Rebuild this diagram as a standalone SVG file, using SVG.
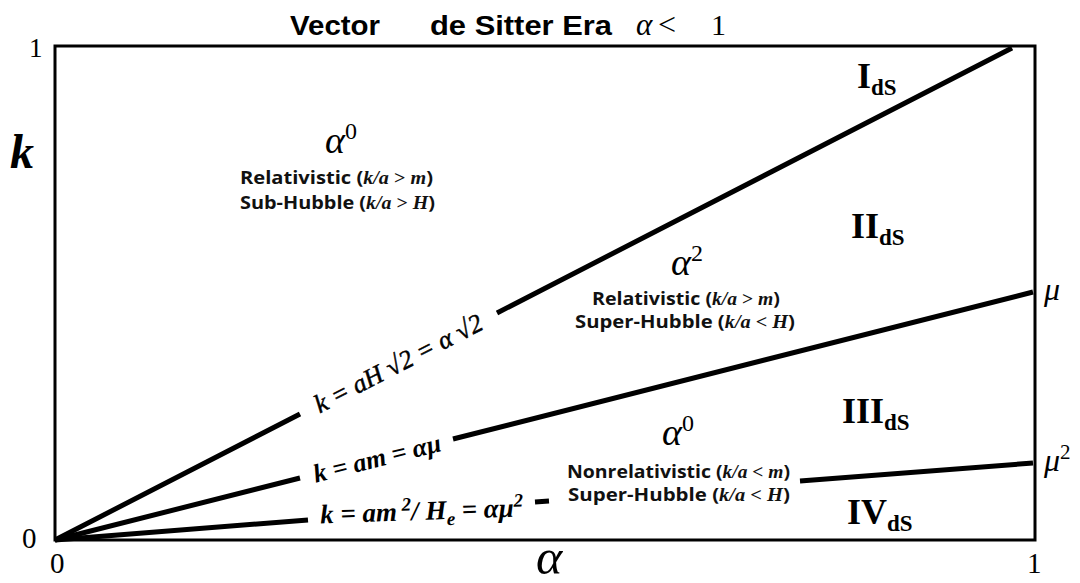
<svg xmlns="http://www.w3.org/2000/svg" width="1080" height="583" viewBox="0 0 1080 583">
<style>
.title{font-family:"Liberation Sans",Arial,sans-serif;font-weight:bold;font-size:28px;fill:#000}
.serif{font-family:"Liberation Serif","Times New Roman",serif;fill:#000}
.it{font-style:italic}
.reg{font-family:"Open Sans","Noto Sans",sans-serif;font-weight:bold;font-size:18px;fill:#111}
.m{font-family:"Liberation Serif","Times New Roman",serif;font-weight:bold}
.mi{font-family:"Liberation Serif","Times New Roman",serif;font-style:italic;font-weight:bold}
.roman{font-family:"Liberation Serif","Times New Roman",serif;font-weight:bold;font-size:36px;fill:#000}
.sub{font-size:23px}
.ln{stroke:#000;stroke-width:5;fill:none;stroke-linecap:butt}
</style>
<rect x="0" y="0" width="1080" height="583" fill="#fff"/>
<g id="title">
<text class="title" x="290" y="35" textLength="90" lengthAdjust="spacingAndGlyphs">Vector</text>
<text class="title" x="430" y="35" textLength="182" lengthAdjust="spacingAndGlyphs">de Sitter Era</text>
<text class="serif it" x="636" y="35" font-size="31">α</text>
<text class="serif" x="658" y="35" font-size="32">&lt;</text>
<text class="serif" x="711" y="35" font-size="30">1</text>
</g>
<g id="frame">
<rect x="55" y="46" width="980" height="494" fill="none" stroke="#000" stroke-width="3"/>
</g>
<g id="axes-labels">
<text class="serif" x="29" y="57" font-size="27">1</text>
<text class="serif it" x="10" y="168" font-size="48" font-weight="bold">k</text>
<text class="serif" x="22" y="548" font-size="29">0</text>
<text class="serif" x="50" y="573" font-size="29">0</text>
<text class="serif" x="1027" y="573" font-size="29">1</text>
<text class="serif it" x="549" y="574" font-size="50" text-anchor="middle">α</text>
</g>
<g id="connectors">
<path class="ln" d="M55,540 L300,414 M497,313 L1012,48"/>
<path class="ln" d="M55,540 L300,478 M453,439 L1033,292"/>
<path class="ln" d="M55,540 L308,520 M535,502 L549,501 M800,481 L1033,463"/>
</g>
<g id="line-labels">
<text class="serif it" font-size="26" x="398.5" y="372" text-anchor="middle" stroke="#000" stroke-width="0.5" transform="rotate(-27.2 398.5 363.5)">k = aH √2 = α √2</text>
<text class="serif it" font-size="26" font-weight="bold" x="377" y="467" text-anchor="middle" transform="rotate(-14.2 377 458.5)">k = am = αμ</text>
<text class="serif it" font-size="27" font-weight="bold" x="422" y="520" text-anchor="middle" transform="rotate(-2 422 520)">k = am<tspan font-size="19" dy="-10"> 2</tspan><tspan dy="10">/ H</tspan><tspan font-size="19" dy="6">e</tspan><tspan dy="-6"> = αμ</tspan><tspan font-size="19" dy="-10">2</tspan></text>
</g>
<g id="region-I">
<text class="serif" x="341" y="153" text-anchor="middle"><tspan class="it" font-size="38">α</tspan><tspan font-size="24" dy="-14">0</tspan></text>
<text class="reg" x="240" y="184" textLength="193" lengthAdjust="spacingAndGlyphs">Relativistic (<tspan class="mi">k/a</tspan><tspan class="m"> &gt; </tspan><tspan class="mi">m</tspan>)</text>
<text class="reg" x="240" y="209" textLength="195" lengthAdjust="spacingAndGlyphs">Sub-Hubble (<tspan class="mi">k/a</tspan><tspan class="m"> &gt; </tspan><tspan class="mi">H</tspan>)</text>
<text class="roman" x="857" y="88">I<tspan class="sub" dy="7">dS</tspan></text>
</g>
<g id="region-II">
<text class="serif" x="687" y="275" text-anchor="middle"><tspan class="it" font-size="38">α</tspan><tspan font-size="24" dy="-14">2</tspan></text>
<text class="reg" x="592" y="305" textLength="188" lengthAdjust="spacingAndGlyphs">Relativistic (<tspan class="mi">k/a</tspan><tspan class="m"> &gt; </tspan><tspan class="mi">m</tspan>)</text>
<text class="reg" x="575" y="328" textLength="220" lengthAdjust="spacingAndGlyphs">Super-Hubble (<tspan class="mi">k/a</tspan><tspan class="m"> &lt; </tspan><tspan class="mi">H</tspan>)</text>
<text class="roman" x="851" y="238">II<tspan class="sub" dy="7">dS</tspan></text>
</g>
<g id="region-III">
<text class="serif" x="678" y="445" text-anchor="middle"><tspan class="it" font-size="38">α</tspan><tspan font-size="24" dy="-14">0</tspan></text>
<text class="reg" x="567" y="478" textLength="223" lengthAdjust="spacingAndGlyphs">Nonrelativistic (<tspan class="mi">k/a</tspan><tspan class="m"> &lt; </tspan><tspan class="mi">m</tspan>)</text>
<text class="reg" x="568" y="501" textLength="222" lengthAdjust="spacingAndGlyphs">Super-Hubble (<tspan class="mi">k/a</tspan><tspan class="m"> &lt; </tspan><tspan class="mi">H</tspan>)</text>
<text class="roman" x="842" y="423">III<tspan class="sub" dy="7">dS</tspan></text>
</g>
<g id="region-IV">
<text class="roman" x="847" y="524">IV<tspan class="sub" dy="7">dS</tspan></text>
</g>
<g id="boundary-labels">
<text class="serif it" x="1044" y="300" font-size="32">μ</text>
<text class="serif" x="1044" y="471"><tspan class="it" font-size="32">μ</tspan><tspan font-size="21" dy="-12">2</tspan></text>
</g>
</svg>
